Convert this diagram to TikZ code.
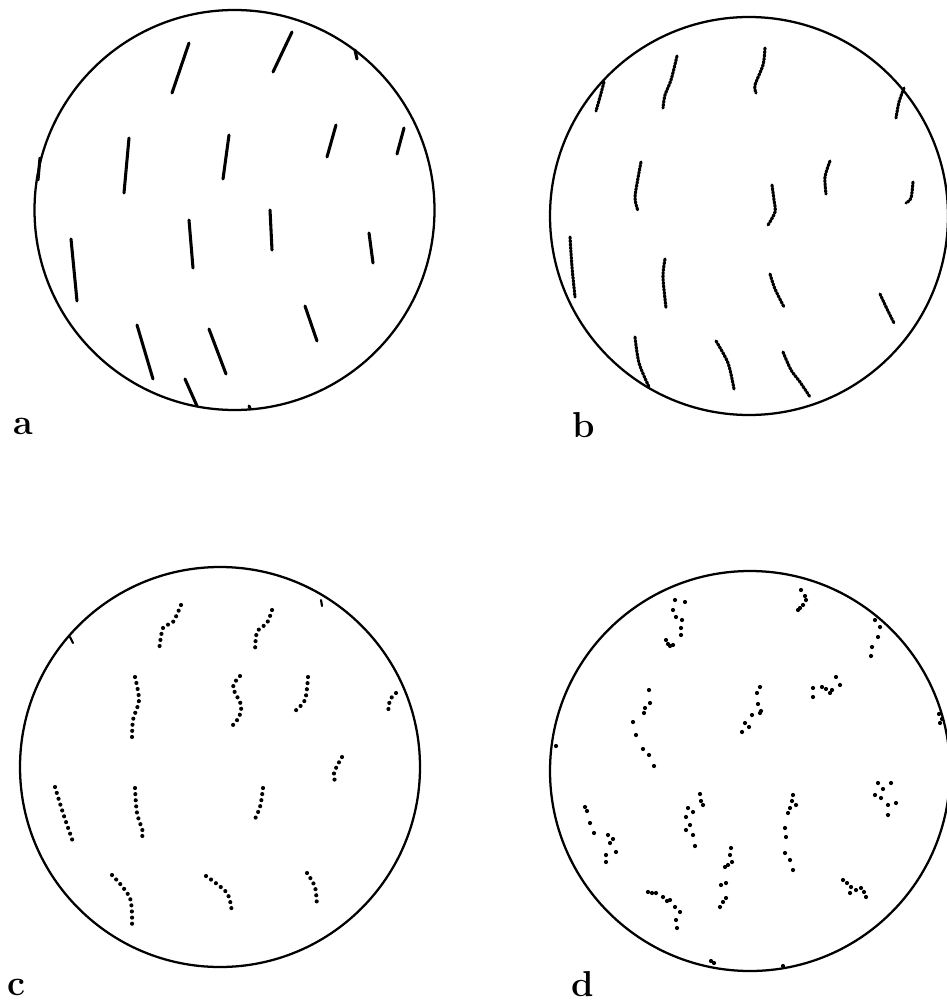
\documentclass[tikz,border=0pt]{standalone}
\begin{document}
\begin{tikzpicture}[x=0.75pt,y=-0.75pt,
  rim/.style={line width=1.7pt},
  streakA/.style={line width=2.3pt,line cap=round},
  streakB/.style={line width=2.3pt,line cap=round,dash pattern=on 1.4pt off 1.1pt},
  streakC/.style={line width=3.1pt,line cap=round,dash pattern=on 0pt off 4.6pt},
  lab/.style={font=\fontsize{27}{27}\selectfont\bfseries,inner sep=0pt,anchor=base west}]
\useasboundingbox (0,0) rectangle (946,1002);
\fill[white] (0,0) rectangle (946,1002);
% ---------- a ----------
\coordinate (ca) at (234.5,210);
\draw[rim] (ca) circle[radius=200];
\draw[streakA] (189,43) -- (172,93);
\draw[streakA] (292,32) -- (273,72);
\draw[streakA] (355,50) -- (357,59);
\draw[streakA] (129,138) -- (124,193);
\draw[streakA] (229,135) -- (223,179);
\draw[streakA] (336,125) -- (327,157);
\draw[streakA] (404,128) -- (397,154);
\draw[streakA] (40,158) -- (38,180);
\draw[streakA] (189,220) -- (193,268);
\draw[streakA] (270,210) -- (272,250);
\draw[streakA] (369,233) -- (373,263);
\draw[streakA] (71,239) -- (77,301);
\draw[streakA] (137,325) -- (153,379);
\draw[streakA] (209,329) -- (226,374);
\draw[streakA] (305,306) -- (317,341);
\draw[streakA] (185,379) -- (197,406);
\draw[streakA] (249,406) -- (250,408);
\node[lab] (la) at (13,434) {a};
% ---------- b ----------
\coordinate (cb) at (749,216);
\draw[rim] (cb) circle[radius=199];
\draw[streakB] plot[smooth] coordinates {(677,56) (671,80) (665,95) (663,108)};
\draw[streakB] plot[smooth] coordinates {(765,48) (763,65) (755,85) (756,93)};
\draw[streakB] plot[smooth] coordinates {(604,82) (600,97) (596,111)};
\draw[streakB] plot[smooth] coordinates {(904,88) (899,102) (896,118)};
\draw[streakB] plot[smooth] coordinates {(641,162) (638,178) (635,198) (638,211)};
\draw[streakB] plot[smooth] coordinates {(772,185) (774,200) (775,212) (768,225)};
\draw[streakB] plot[smooth] coordinates {(830,161) (825,177) (826,194)};
\draw[streakB] plot[smooth] coordinates {(913,182) (911,198) (906,203)};
\draw[streakB] plot[smooth] coordinates {(570,237) (572,267) (575,297)};
\draw[streakB] plot[smooth] coordinates {(665,259) (663,277) (666,308)};
\draw[streakB] plot[smooth] coordinates {(770,274) (775,289) (784,307)};
\draw[streakB] plot[smooth] coordinates {(880,294) (887,309) (894,323)};
\draw[streakB] plot[smooth] coordinates {(635,337) (639,363) (649,387)};
\draw[streakB] plot[smooth] coordinates {(716,341) (728,363) (734,389)};
\draw[streakB] plot[smooth] coordinates {(783,352) (791,370) (800,382) (810,397)};
\node[lab] (lb) at (572,437) {b};
% ---------- c ----------
\coordinate (cc) at (220,767);
\draw[rim] (cc) circle[radius=200];
\draw[streakA,line width=1.6pt] (321,600) -- (322,606);
\draw[streakA,line width=1.6pt] (70,637) -- (73,643);
\draw[streakC] plot[smooth] coordinates {(181,605) (173,622) (163,628) (159,651)};
\draw[streakC] plot[smooth] coordinates {(272,610) (267,623) (257,632) (255,652)};
\draw[streakC] plot[smooth] coordinates {(135,677) (139,700) (133,720) (132,740)};
\draw[streakC] plot[smooth] coordinates {(240,676) (233,687) (241,705) (239,717) (233,725)};
\draw[streakC] plot[smooth] coordinates {(308,677) (305,700) (295,711)};
\draw[streakC] plot[smooth] coordinates {(396,693) (390,700) (388,713)};
\draw[streakC] plot[smooth] coordinates {(342,757) (334,773) (336,785)};
\draw[streakC] plot[smooth] coordinates {(55,787) (63,813) (73,842)};
\draw[streakC] plot[smooth] coordinates {(135,788) (137,813) (143,833) (139,840)};
\draw[streakC] plot[smooth] coordinates {(263,788) (260,807) (253,823)};
\draw[streakC] plot[smooth] coordinates {(112,875) (130,898) (132,928)};
\draw[streakC] plot[smooth] coordinates {(206,876) (227,893) (232,913)};
\draw[streakC] plot[smooth] coordinates {(307,873) (315,887) (317,907)};
\node[lab] (lc) at (7,995) {c};
% ---------- d ----------
\coordinate (cd) at (750,771);
\draw[rim] (cd) circle[radius=200];
\foreach \x/\y in {
  675/600, 685/602, 673/610, 676/617, 682/620, 681/628, 681/635, 666/640, 670/646, 673/645, 668/644,
  801/590, 805/596, 806/600, 803/605, 798/610, 800/608,
  875/620, 880/627, 878/637, 872/647, 871/656,
  649/690, 650/703, 644/713, 645/708, 633/722, 636/735, 643/749, 649/755, 654/766,
  760/687, 757/693, 758/704, 760/713, 752/715, 745/723, 742/732, 749/727, 761/711,
  813/688, 813/697, 822/687, 832/690, 836/677, 840/685, 830/693, 826/689,
  939/714, 942/719, 940/723, 556/746,
  585/807, 587/811, 590/823, 594/833, 608/835, 610/843, 606/855, 616/852, 606/862, 613/839,
  700/794, 703/805, 688/808, 693/812, 686/817, 690/825, 686/830, 693/835, 695/846, 701/801,
  793/795, 796/805, 790/808, 788/813, 785/828, 786/837, 785/853, 790/860, 793/870, 792/801,
  878/783, 891/783, 875/795, 881/798, 888/805, 896/803, 888/815, 883/789,
  731/848, 730/855, 728/865, 725/867, 726/883, 721/885, 726/898, 723/902, 720/907, 732/862,
  843/880, 847/883, 851/887, 856/890, 861/888, 866/897, 850/893, 864/892,
  648/892, 652/893, 656/893, 663/897, 670/900, 675/907, 680/912, 676/920, 677/928, 667/901,
  711/961, 714/963, 783/966}
  {\fill (\x,\y) circle[radius=2.1];}
\node[lab] (ld) at (571,996) {d};
\end{tikzpicture}
\end{document}
